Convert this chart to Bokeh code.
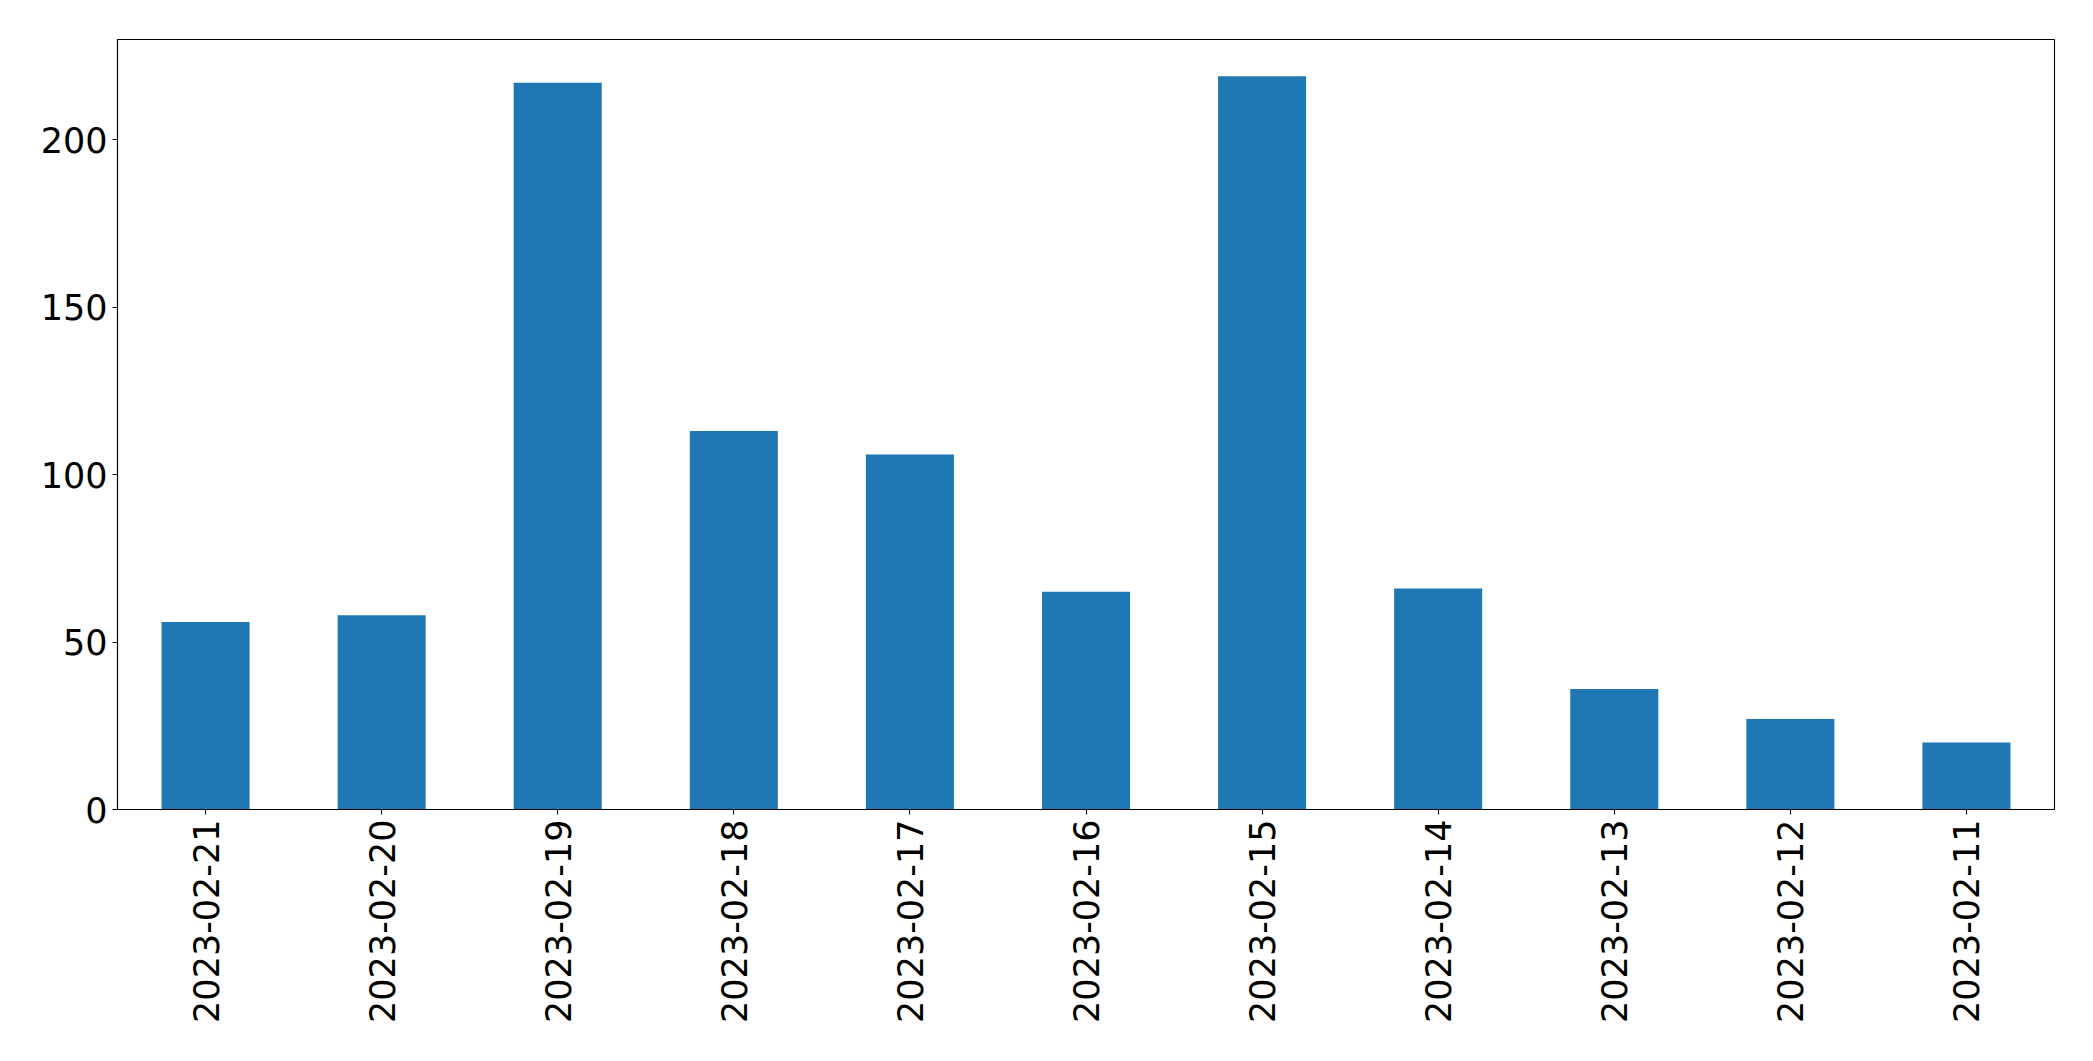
from bokeh.plotting import figure
from bokeh.models import FactorRange, Range1d, FixedTicker
from bokeh.embed import file_html
from bokeh.resources import INLINE
import math

dates = ["2023-02-21", "2023-02-20", "2023-02-19", "2023-02-18", "2023-02-17",
         "2023-02-16", "2023-02-15", "2023-02-14", "2023-02-13", "2023-02-12",
         "2023-02-11"]
counts = [56, 58, 217, 113, 106, 65, 219, 66, 36, 27, 20]
y_ticks = [0, 50, 100, 150, 200]

FONT = "DejaVu Sans"
FS = "35px"

p = figure(
    x_range=FactorRange(*dates, range_padding=0),
    y_range=Range1d(0, max(counts) * 1.05),
    width=2078, height=1041,
    min_border_left=117, min_border_right=24, min_border_top=39, min_border_bottom=232,
    output_backend="svg", toolbar_location=None,
)

p.vbar(x=dates, top=counts, width=0.5, color="#1f77b4", line_color=None)

p.xgrid.visible = False
p.ygrid.visible = False
p.outline_line_color = "black"
p.outline_line_width = 1.1
p.outline_line_alpha = 1.0

for ax in (p.xaxis[0], p.yaxis[0]):
    ax.axis_line_color = "black"
    ax.axis_line_width = 1.1
    ax.major_tick_line_color = "black"
    ax.major_tick_line_width = 1.1
    ax.major_tick_out = 5
    ax.major_tick_in = 0
    ax.minor_tick_line_color = None
    ax.major_label_text_font = FONT
    ax.major_label_text_font_size = FS
    ax.major_label_text_color = "black"
    ax.major_label_standoff = 5

p.yaxis[0].ticker = FixedTicker(ticks=y_ticks)
p.xaxis[0].major_label_orientation = math.pi / 2
p.xaxis[0].group_text_font_size = "0px"

open("out.html", "w").write(file_html(p, INLINE))
